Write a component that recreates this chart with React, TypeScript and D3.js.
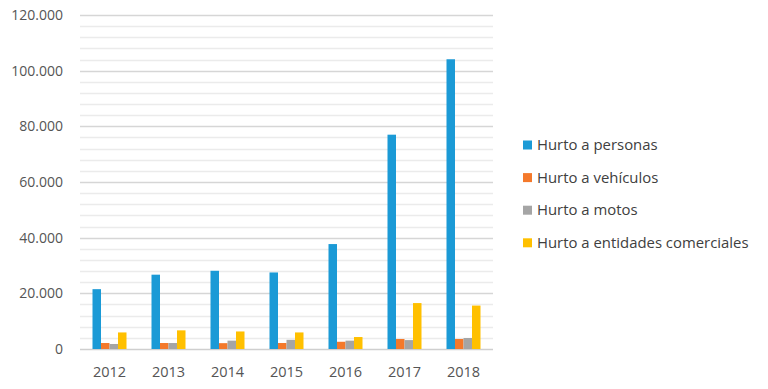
import { useEffect, useRef } from 'react'
import * as d3 from 'd3'

const years = ['2012', '2013', '2014', '2015', '2016', '2017', '2018']
const seriesNames = [
  'Hurto a personas',
  'Hurto a vehículos',
  'Hurto a motos',
  'Hurto a entidades comerciales',
]
const personas = [21500, 26700, 28100, 27500, 37700, 77000, 104100]
const vehiculos = [2150, 2150, 2100, 2150, 2600, 3600, 3600]
const motos = [1800, 2150, 3000, 3300, 3000, 3200, 3950]
const comerciales = [5950, 6700, 6300, 5950, 4300, 16500, 15600]
const colors = ['#1b9ad6', '#f4792b', '#a5a5a5', '#ffc000']
const yTicks = [0, 20000, 40000, 60000, 80000, 100000, 120000]

export default function App() {
  const ref = useRef<SVGSVGElement>(null)

  useEffect(() => {
    const svg = d3.select(ref.current)
    svg.selectAll('*').remove()

    const values = [personas, vehiculos, motos, comerciales]
    const left = 80
    const right = 493
    const top = 15
    const bottom = 349

    const x = d3.scaleBand().domain(years).range([left, right]).paddingInner(0).paddingOuter(0)
    const inner = d3
      .scaleBand()
      .domain(seriesNames)
      .range([x.bandwidth() / 2 - 17, x.bandwidth() / 2 + 17])
    const y = d3.scaleLinear().domain([0, 120000]).range([bottom, top])

    // minor gridlines
    svg
      .append('g')
      .selectAll('line')
      .data(d3.range(0, 120001, 4000).filter((v) => v % 20000 !== 0))
      .enter()
      .append('line')
      .attr('x1', left)
      .attr('x2', right)
      .attr('y1', (d) => Math.round(y(d)) + 0.5)
      .attr('y2', (d) => Math.round(y(d)) + 0.5)
      .attr('stroke', '#ebebeb')
      .attr('stroke-width', 1.5)

    // major gridlines
    svg
      .append('g')
      .selectAll('line')
      .data(yTicks)
      .enter()
      .append('line')
      .attr('x1', left)
      .attr('x2', right)
      .attr('y1', (d) => Math.round(y(d)) + 0.5)
      .attr('y2', (d) => Math.round(y(d)) + 0.5)
      .attr('stroke', (d) => (d === 0 ? '#cfcfcf' : '#d6d6d6'))
      .attr('stroke-width', 1.5)

    svg
      .append('g')
      .selectAll('text')
      .data(yTicks)
      .enter()
      .append('text')
      .attr('x', 63)
      .attr('y', (d) => y(d))
      .attr('dy', '0.35em')
      .attr('text-anchor', 'end')
      .attr('fill', '#555')
      .style('font-family', 'Open Sans, sans-serif')
      .style('font-size', '14px')
      .text((d) => d3.format(',')(d).replace(/,/g, '.'))

    svg
      .append('g')
      .selectAll('text')
      .data(years)
      .enter()
      .append('text')
      .attr('x', (d) => x(d)! + x.bandwidth() / 2)
      .attr('y', 372)
      .attr('dy', '0.35em')
      .attr('text-anchor', 'middle')
      .attr('fill', '#555')
      .style('font-family', 'Open Sans, sans-serif')
      .style('font-size', '14.5px')
      .text((d) => d)

    const groups = svg
      .append('g')
      .selectAll('g')
      .data(years)
      .enter()
      .append('g')
      .attr('transform', (d) => `translate(${x(d)},0)`)

    groups
      .selectAll('rect')
      .data((d, i) => seriesNames.map((s, k) => ({ s, k, v: values[k][i] })))
      .enter()
      .append('rect')
      .attr('x', (d) => inner(d.s)!)
      .attr('width', inner.bandwidth())
      .attr('y', (d) => y(d.v))
      .attr('height', (d) => y(0) - y(d.v))
      .attr('fill', (d) => colors[d.k])

    const legend = svg
      .append('g')
      .selectAll('g')
      .data(seriesNames)
      .enter()
      .append('g')
      .attr('transform', (d, i) => `translate(523,${145 + i * 32.6})`)

    legend
      .append('rect')
      .attr('x', 0)
      .attr('y', -4.5)
      .attr('width', 9)
      .attr('height', 9)
      .attr('fill', (d, i) => colors[i])

    legend
      .append('text')
      .attr('x', 14)
      .attr('dy', '0.35em')
      .attr('fill', '#404040')
      .style('font-family', 'Open Sans, sans-serif')
      .style('font-size', '14.9px')
      .text((d) => d)
  }, [])

  return (
    <svg
      ref={ref}
      width={768}
      height={389}
      style={{ position: 'absolute', left: 0, top: 0, background: '#fff' }}
    />
  )
}
